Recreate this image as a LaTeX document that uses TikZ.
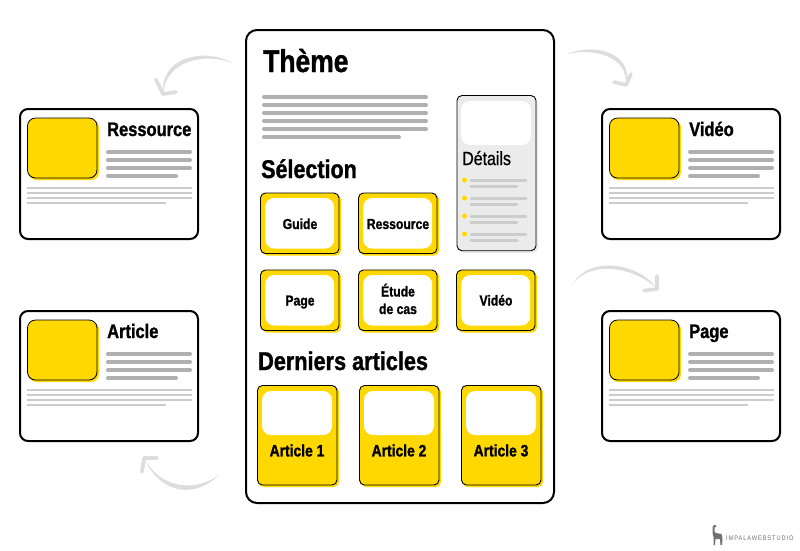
\documentclass[tikz,border=0pt]{standalone}
\usepackage{fontspec}
\setmainfont{Liberation Sans}[FakeStretch=0.84,BoldFeatures={FakeBold=1.2}]
\newfontfamily\medfont{Liberation Sans}[FakeStretch=0.84,FakeBold=0.7]
\newfontfamily\logofont{Liberation Sans}[FakeStretch=0.84,LetterSpace=14]
\definecolor{yel}{HTML}{FFD800}
\definecolor{gthick}{HTML}{B0B0B0}
\definecolor{gthin}{HTML}{CCCCCC}
\definecolor{panel}{HTML}{EBEBEB}
\definecolor{arrowgray}{HTML}{DDDDDD}
\definecolor{logo}{HTML}{6E7176}
\tikzset{
  x=1pt,y=-1pt,
  frame/.style={draw=black,line width=2pt,rounded corners=8pt,fill=white},
  mainframe/.style={frame,rounded corners=11pt},
  inkbox/.style={draw=black,line width=.9pt,rounded corners=5pt},
  yshadow/.style={fill=yel,rounded corners=5pt},
  whitebox/.style={fill=white,rounded corners=9pt},
  thickline/.style={draw=gthick,line width=4pt,line cap=round},
  thinline/.style={draw=gthin,line width=2pt},
  subline/.style={draw=gthin,line width=2.6pt,line cap=round},
  txt/.style={inner sep=0pt,font=\bfseries,text=black},
  title/.style={txt,anchor=base west},
  tilelabel/.style={txt,anchor=base,font=\fontsize{14.5}{17.5}\selectfont\bfseries,align=center},
  artlabel/.style={txt,font=\fontsize{16.5}{18}\selectfont\bfseries},
  arrowbody/.style={fill=arrowgray,draw=none},
  arrowhead/.style={draw=arrowgray,line width=3.6pt,line cap=round,line join=round},
}
\newcommand{\sidecard}[4]{%
  \begin{scope}[shift={(#1,#2)}]
    \draw[frame] (20,109) rectangle (198,239);
    \fill[yshadow,rounded corners=8pt] (28.5,119.5) rectangle (99,180);
    \draw[inkbox,rounded corners=8pt,fill=yel,line width=.8pt] (27.5,118) rectangle (97,178);
    \node[title,font=\fontsize{19.6}{22}\selectfont\bfseries] (#3) at (107,136) {#4};
    \foreach \yy in {152,160,168} \draw[thickline] (108,\yy) -- (190,\yy);
    \draw[thickline] (108,176) -- (176,176);
    \foreach \yy in {187.7,193,198} \draw[thinline] (27,\yy) -- (192,\yy);
    \draw[thinline] (27,203) -- (166,203);
  \end{scope}}
% #1 x, #2 y, #3 name, #4 label, #5 baseline offset
\newcommand{\tile}[5]{%
  \fill[yshadow] (#1+1.5,#2+1.5) rectangle ++(79,61);
  \draw[inkbox,fill=yel] (#1,#2) rectangle ++(78.5,60.5);
  \fill[whitebox] (#1+4.7,#2+5) rectangle ++(69,50.5);
  \node[tilelabel] (#3) at (#1+39.5,#2+#5) {#4};}
\newcommand{\articlecard}[4]{%
  \fill[yshadow] (#1+1.5,#2+1.5) rectangle ++(80,100);
  \draw[inkbox,fill=yel] (#1,#2) rectangle ++(79.5,99.5);
  \fill[whitebox] (#1+4.5,#2+5.5) rectangle ++(70,44);
  \node[artlabel] (#3) at (#1+39.5,#2+65) {#4};}
\begin{document}
\begin{tikzpicture}
\useasboundingbox (0,0) rectangle (800,550);
\fill[white] (0,0) rectangle (800,550);

\sidecard{0}{0}{lt}{Ressource}
\sidecard{0}{202}{lb}{Article}
\sidecard{582}{0}{rt}{Vidéo}
\sidecard{582}{202}{rb}{Page}

\draw[mainframe] (246,30) rectangle (554,503);
\node[title,font=\fontsize{31.5}{33}\selectfont\bfseries] (theme) at (263,72) {Thème};
\foreach \yy in {97,105,113,121,129} \draw[thickline] (264,\yy) -- (426,\yy);
\draw[thickline] (264,137) -- (399,137);
\node[title,font=\fontsize{25.6}{27}\selectfont\bfseries] (sel) at (261,178) {Sélection};
\node[title,font=\fontsize{25.8}{27}\selectfont\bfseries] (der) at (258,370) {Derniers articles};

\fill[panel,rounded corners=5pt] (459,98) rectangle (538,253);
\draw[inkbox,fill=panel] (457,95.5) rectangle (536,250.7);
\fill[whitebox] (461,101) rectangle (531,145);
\node[inner sep=0pt,anchor=base west,font=\medfont\fontsize{19}{20}\selectfont] (det) at (462,165) {Détails};
\foreach \yy in {180,198,216,234}{
  \fill[yel] (464.5,\yy) circle (2.5);
  \draw[subline] (471,\yy+.7) -- (526,\yy+.7);
  \draw[subline] (471,\yy+6.4) -- (517,\yy+6.4);
}

\tile{260.5}{193}{t1}{Guide}{36}
\tile{358.5}{193}{t2}{Ressource}{36}
\tile{260.5}{270}{t3}{Page}{35.5}
\tile{358.5}{270}{t4}{Étude\\de cas}{44}
\tile{456.5}{270}{t5}{Vidéo}{35.5}

\articlecard{257.5}{385.5}{a1}{Article 1}
\articlecard{359.5}{385.5}{a2}{Article 2}
\articlecard{461.5}{385.5}{a3}{Article 3}

\coordinate (a1s) at (232.5,63);
\coordinate (a1t) at (163,94);
\coordinate (a1l) at (156,79.5);
\coordinate (a1r) at (176,92);
\fill[arrowbody] (a1s) .. controls (205,47.5) and (160,56) .. (a1t)
   .. controls (166,60) and (205,52.5) .. (a1s);
\draw[arrowhead] (a1l) -- (a1t) -- (a1r);

\coordinate (a2s) at (567,54);
\coordinate (a2t) at (626,85);
\coordinate (a2l) at (614,82);
\coordinate (a2r) at (631,74);
\fill[arrowbody] (a2s) .. controls (590,43.5) and (634,50) .. (a2t)
   .. controls (628,54) and (590,48.5) .. (a2s);
\draw[arrowhead] (a2l) -- (a2t) -- (a2r);

\coordinate (a3s) at (572,285);
\coordinate (a3t) at (657,289);
\coordinate (a3l) at (644,290.5);
\coordinate (a3r) at (657,276);
\fill[arrowbody] (a3s) .. controls (590,253.5) and (641,264) .. (a3t)
   .. controls (637,268) and (590,258.5) .. (a3s);
\draw[arrowhead] (a3l) -- (a3t) -- (a3r);

\coordinate (a4s) at (219,475);
\coordinate (a4t) at (144,458);
\coordinate (a4l) at (142,472);
\coordinate (a4r) at (157,458);
\fill[arrowbody] (a4s) .. controls (197,497) and (162,497) .. (a4t)
   .. controls (162,491) and (197,491) .. (a4s);
\draw[arrowhead] (a4l) -- (a4t) -- (a4r);

\fill[logo] (721.5,534) -- (716,533) -- (714.5,531.5) -- (714.5,527) -- (716,527) -- (716,525) -- (714,525) -- (712.5,527) -- (712.5,533) -- (713.5,537) -- (713.5,545) -- (715,545) -- (715.5,539) -- (720,539) -- (720.5,545) -- (722,545) -- (722.5,539) -- cycle;
\node[inner sep=0pt,anchor=base west,text=logo,font=\logofont\fontsize{6.7}{8}\selectfont] (logotext) at (726,540) {IMPALAWEBSTUDIO};
\end{tikzpicture}
\end{document}
